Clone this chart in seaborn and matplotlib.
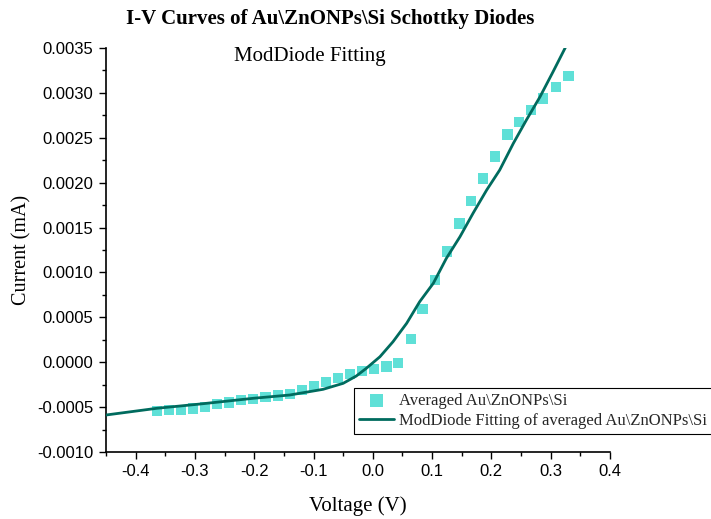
import matplotlib
matplotlib.use("Agg")
import matplotlib.pyplot as plt
from matplotlib.ticker import MultipleLocator, FormatStrFormatter
import numpy as np
import pandas as pd
import seaborn as sns

# Averaged measured I-V data
voltage = [-0.364, -0.344, -0.324, -0.303, -0.283, -0.263, -0.243, -0.222, -0.202,
           -0.181, -0.160, -0.140, -0.119, -0.099, -0.079, -0.059, -0.038, -0.018,
           0.002, 0.023, 0.043, 0.064, 0.084, 0.105, 0.125, 0.146, 0.166, 0.186,
           0.206, 0.227, 0.247, 0.267, 0.287, 0.309, 0.330]
current = [-0.000543, -0.000532, -0.000532, -0.000514, -0.000496, -0.000469, -0.000447,
           -0.000421, -0.000410, -0.000391, -0.000369, -0.000351, -0.000306, -0.000262,
           -0.000217, -0.000179, -0.000131, -0.000095, -0.000076, -0.000046, -0.000009,
           0.000262, 0.000589, 0.000916, 0.001233, 0.001545, 0.001792, 0.002048,
           0.002293, 0.002538, 0.002672, 0.002806, 0.002939, 0.003062, 0.003188]

# ModDiode fit curve
fit_voltage = [-0.450, -0.364, -0.292, -0.202, -0.140, -0.084, -0.050, -0.028, -0.011,
               0.012, 0.034, 0.057, 0.079, 0.102, 0.124, 0.147, 0.169, 0.192, 0.214,
               0.237, 0.259, 0.282, 0.304, 0.324, 0.340]
fit_current = [-0.000588, -0.000513, -0.000466, -0.000402, -0.000365, -0.000302,
               -0.000235, -0.000154, -0.000068, 0.000061, 0.000228, 0.000433,
               0.000674, 0.000879, 0.001157, 0.001398, 0.001659, 0.001918, 0.002141,
               0.002438, 0.002698, 0.002957, 0.003236, 0.003496, 0.003700]

x_ticks = [-0.4, -0.3, -0.2, -0.1, 0.0, 0.1, 0.2, 0.3, 0.4]
y_ticks = [-0.0010, -0.0005, 0.0000, 0.0005, 0.0010, 0.0015, 0.0020, 0.0025, 0.0030, 0.0035]

data_label = "Averaged Au\\ZnONPs\\Si"
fit_label = "ModDiode Fitting of averaged Au\\ZnONPs\\Si"

sns.set_theme(style="ticks")
plt.rcParams["font.family"] = ["Liberation Serif", "DejaVu Serif"]

measured = pd.DataFrame({"V": voltage, "I": current})
fitted = pd.DataFrame({"V": fit_voltage, "I": fit_current})

fig = plt.figure(figsize=(7.11, 5.19), dpi=100)
ax = fig.add_axes([106 / 711, 67 / 519, 504 / 711, 404 / 519])

sns.scatterplot(data=measured, x="V", y="I", ax=ax, marker="s", s=55,
                color="#5FE0D7", edgecolor="none", label=data_label, zorder=2)
sns.lineplot(data=fitted, x="V", y="I", ax=ax, color="#006B5E", linewidth=2.0,
             label=fit_label, zorder=3, sort=False)

ax.set_xlim(-0.45, 0.4)
ax.set_ylim(-0.0010, 0.0035)
ax.set_xticks(x_ticks)
ax.set_yticks(y_ticks)
ax.xaxis.set_minor_locator(MultipleLocator(0.05))
ax.yaxis.set_minor_locator(MultipleLocator(0.00025))
ax.xaxis.set_major_formatter(FormatStrFormatter("%.1f"))
ax.yaxis.set_major_formatter(FormatStrFormatter("%.4f"))
ax.tick_params(which="major", direction="out", length=5, width=1.0, color="black",
               labelsize=12, labelcolor="black", pad=4)
ax.tick_params(which="minor", direction="out", length=3, width=1.0, color="black")
for lab in ax.get_xticklabels() + ax.get_yticklabels():
    lab.set_fontfamily(["Liberation Sans", "DejaVu Sans"])

sns.despine(ax=ax)
for side in ("left", "bottom"):
    ax.spines[side].set_color("black")
    ax.spines[side].set_linewidth(1.2)

ax.set_xlabel("Voltage (V)", fontsize=15, color="black", labelpad=12)
ax.set_ylabel("Current (mA)", fontsize=14.5, color="black", labelpad=4)

fig.text(330 / 711, 1 - 19 / 519, "I-V Curves of Au\\ZnONPs\\Si Schottky Diodes",
         ha="center", va="center", fontsize=15, fontweight="bold", color="black")
fig.text(310 / 711, 1 - 57 / 519, "ModDiode Fitting", ha="center", va="center",
         fontsize=15, color="black")

leg = ax.legend(loc="upper left", bbox_to_anchor=((354 - 106) / 504, (452 - 388) / 404),
                frameon=True, fancybox=False, shadow=False, framealpha=1,
                edgecolor="black", fontsize=12, handlelength=2.1,
                handletextpad=0.3, borderpad=0.3, labelspacing=0.25,
                borderaxespad=0, markerscale=1.2)
leg.get_frame().set_linewidth(0.8)

fig.savefig("out.png", dpi=100)
